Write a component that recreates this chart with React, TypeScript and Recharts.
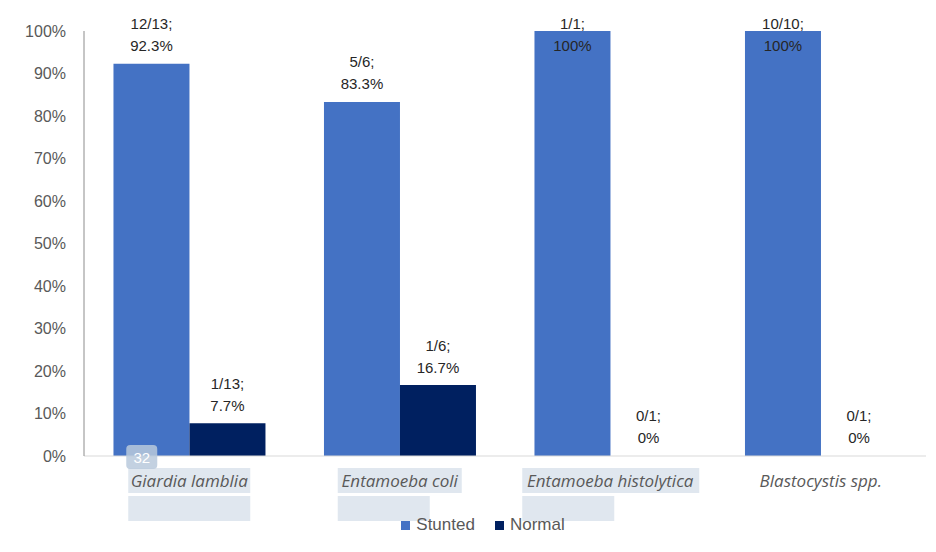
import { BarChart, Bar, Cell, XAxis, YAxis, LabelList, Legend } from "recharts";

const categories = ["Giardia lamblia", "Entamoeba coli", "Entamoeba histolytica", "Blastocystis spp."];
const stunted = [92.3, 83.3, 100, 100];
const normal = [7.7, 16.7, 0, 0];
const stuntedCounts = ["12/13;", "5/6;", "1/1;", "10/10;"];
const normalCounts = ["1/13;", "1/6;", "0/1;", "0/1;"];
const yTicks = [0, 10, 20, 30, 40, 50, 60, 70, 80, 90, 100];

const STUNTED = "#4472C4";
const NORMAL = "#002060";
const FONT = "'Liberation Sans', Arial, sans-serif";
const CAT_FONT = "'Open Sans', sans-serif";

const data = categories.map((name, i) => ({
  name,
  stunted: stunted[i],
  normal: normal[i],
  stuntedLabel: stuntedCounts[i],
  normalLabel: normalCounts[i],
}));

// highlight boxes behind the category labels (selection marks in the source)
const boxes: Record<string, [number, number][]> = {
  "Giardia lamblia": [[-61, 122], [-61, 122]],
  "Entamoeba coli": [[-62, 124], [-62, 92]],
  "Entamoeba histolytica": [[-88, 177], [-88, 92]],
};

const CategoryTick = ({ x, y, payload }: any) => {
  const b = boxes[payload.value] || [];
  return (
    <g>
      {b.map((r, i) => (
        <rect key={i} x={x + r[0]} y={y + 4 + i * 28} width={r[1]} height={25} fill="#e0e7ef" />
      ))}
      {payload.value === "Giardia lamblia" && (
        <g>
          <rect x={x - 63} y={y - 19} width={31} height={24} rx={4} fill="#b9c9dc" opacity={0.85} />
          <text x={x - 47.5} y={y - 7} textAnchor="middle" dominantBaseline="central" fill="#fff" fontSize={15} fontFamily={FONT}>
            32
          </text>
        </g>
      )}
      <text x={x} y={y + 16} textAnchor="middle" dominantBaseline="central" fill="#595959" fontSize={17} fontStyle="italic" fontFamily={CAT_FONT}>
        {payload.value}
      </text>
    </g>
  );
};

const makeLabel = (key: "stuntedLabel" | "normalLabel") => (props: any) => {
  const { x, y, width, value, index } = props;
  const l1 = Math.max(y - 40, 23);
  return (
    <g>
      <text x={x + width / 2} y={l1} textAnchor="middle" dominantBaseline="central" fill="#262626" fontSize={15} fontFamily={FONT}>
        {data[index][key]}
      </text>
      <text x={x + width / 2} y={l1 + 22} textAnchor="middle" dominantBaseline="central" fill="#262626" fontSize={15} fontFamily={FONT}>
        {`${value}%`}
      </text>
    </g>
  );
};

const LegendContent = () => (
  <div style={{ display: "flex", justifyContent: "center", fontFamily: FONT, fontSize: 17, color: "#595959" }}>
    <span style={{ display: "flex", alignItems: "center", marginRight: 20 }}>
      <span style={{ width: 9, height: 9, background: STUNTED, marginRight: 6 }} />Stunted
    </span>
    <span style={{ display: "flex", alignItems: "center" }}>
      <span style={{ width: 9, height: 9, background: NORMAL, marginRight: 6 }} />Normal
    </span>
  </div>
);

export default function App() {
  return (
    <div style={{ position: "relative", margin: -8, width: 936, height: 552, background: "#fff", overflow: "hidden" }}>
      <div style={{ position: "absolute", left: 6, top: 6, right: 0, bottom: 0, borderTop: "2px solid #e4e4e4", borderLeft: "2px solid #e4e4e4" }} />
      <BarChart
        width={936}
        height={552}
        data={data}
        margin={{ top: 31, right: 10, left: 0, bottom: 0 }}
        barCategoryGap="14%"
        barGap={0}
        style={{ position: "absolute", left: 0, top: 0 }}
      >
        <XAxis
          dataKey="name"
          height={76}
          axisLine={{ stroke: "#d9d9d9" }}
          tickLine={false}
          tick={CategoryTick}
          interval={0}
        />
        <YAxis
          width={84}
          domain={[0, 100]}
          ticks={yTicks}
          tickFormatter={(v) => `${v}%`}
          axisLine={{ stroke: "#8c8c8c" }}
          tickLine={false}
          tickMargin={12}
          tick={{ fill: "#595959", fontSize: 16, fontFamily: FONT }}
        />
        <Legend content={LegendContent} wrapperStyle={{ top: 515, left: 0, width: 966 }} />
        <Bar dataKey="stunted" fill={STUNTED} isAnimationActive={false}>
          <LabelList dataKey="stunted" content={makeLabel("stuntedLabel")} />
        </Bar>
        <Bar dataKey="normal" fill={NORMAL} minPointSize={0.5} isAnimationActive={false}>
          {data.map((d) => (
            <Cell key={d.name} fill={d.normal > 0 ? NORMAL : "transparent"} />
          ))}
          <LabelList dataKey="normal" content={makeLabel("normalLabel")} />
        </Bar>
      </BarChart>
    </div>
  );
}
